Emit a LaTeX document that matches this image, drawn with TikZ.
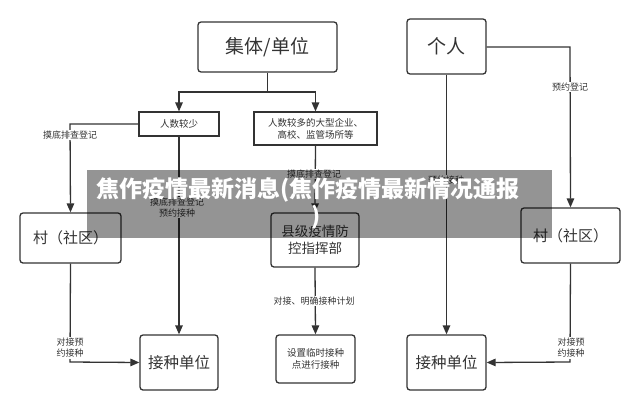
\documentclass[tikz,border=0pt]{standalone}
\usepackage{fontspec}
\setmainfont{Noto Sans CJK SC}
\usetikzlibrary{arrows.meta}
\definecolor{ink}{HTML}{333333}
\tikzset{
  rbox/.style={draw=ink, line width=1.3pt, rounded corners=3pt, text=ink, align=center, inner sep=0pt},
  sbox/.style={draw=ink, line width=1.2pt, text=ink, align=center, inner sep=0pt, font=\fontsize{9.5}{12}\selectfont},
  conn/.style={draw=ink, line width=1.3pt, -{Triangle[length=9pt,width=7.5pt]}},
  plain/.style={draw=ink, line width=1.3pt},
  lbl/.style={text=ink, fill=white, inner sep=1pt, align=center, font=\fontsize{9}{11}\selectfont}
}
\begin{document}
\begin{tikzpicture}[x=1pt,y=-1pt]
\useasboundingbox (0,0) rectangle (640,410);
\fill[white] (0,0) rectangle (640,410);
% main boxes
\node[rbox, minimum width=139pt, minimum height=50pt, font=\fontsize{19}{22}\selectfont] (unit) at (267.5,47) {集体/单位};
\node[rbox, minimum width=79pt, minimum height=55pt, font=\fontsize{19}{22}\selectfont] (person) at (446.5,46.5) {个人};
\node[sbox, minimum width=80pt, minimum height=24pt] (few) at (179,124) {人数较少};
\node[sbox, minimum width=123pt, minimum height=33pt] (many) at (315.5,128.5) {人数较多的大型企业、\\高校、监管场所等};
\node[rbox, minimum width=101pt, minimum height=50pt, font=\fontsize{15}{18}\selectfont] (villL) at (70.5,238) {村（社区）};
\node[rbox, minimum width=99pt, minimum height=55pt, font=\fontsize{15}{18}\selectfont] (villR) at (570.5,235.5) {村（社区）};
\node[rbox, minimum width=88pt, minimum height=54pt, font=\fontsize{13.5}{17}\selectfont] (county) at (315,240) {县级疫情防\\控指挥部};
\node[rbox, minimum width=78pt, minimum height=55pt, font=\fontsize{15.5}{18}\selectfont] (vacL) at (179,362.5) {接种单位};
\node[rbox, minimum width=79pt, minimum height=48pt, font=\fontsize{9.5}{12}\selectfont] (temp) at (315.5,359) {设置临时接种\\点进行接种};
\node[rbox, minimum width=79pt, minimum height=55pt, font=\fontsize{15.5}{18}\selectfont] (vacR) at (446.5,362.5) {接种单位};
% helper coordinates
\coordinate (split) at (267.5,92);
\coordinate (cL) at (70,124);
\coordinate (cR) at (570,47);
\coordinate (dL) at (70,362);
\coordinate (dR) at (570,362);
% connectors
\draw[plain] (unit.south) -- (split);
\draw[conn] (split) -| (few.north);
\draw[conn] (split) -| (many.north);
\draw[conn] (few.west) -- (cL) -- (villL.north);
\draw[conn] (villL.south) -- (dL) -- (vacL.west);
\draw[conn] (few.south) -- (vacL.north);
\draw[conn] (many.south) -- (county.north);
\draw[conn] (county.south) -- (temp.north);
\draw[conn] (person.south) -- (vacR.north);
\draw[conn] (person.east |- cR) -- (cR) -- (villR.north);
\draw[conn] (villR.south) -- (dR) -- (vacR.east);
% labels
\node[lbl] (l1) at (70,135) {摸底排查登记};
\node[lbl] (l2) at (70,348) {对接预\\约接种};
\node[lbl] (l3) at (177,207.5) {摸底排查登记\\预约接种};
\node[lbl] (l4) at (314,174) {摸底排查登记};
\node[lbl] (l5) at (314,301) {对接、明确接种计划};
\node[lbl] (l6) at (446,180) {预约接种};
\node[lbl] (l7) at (570,87) {预约登记};
\node[lbl] (l8) at (571,348) {对接预\\约接种};
% title banner
\fill[black, opacity=0.42] (87,170) rectangle (552,238);
\node[text=white, font=\fontsize{23}{26}\selectfont\bfseries, anchor=west, inner sep=0pt] (title) at (96,190) {焦作疫情最新消息(焦作疫情最新情况通报};
\node[text=white, font=\fontsize{23}{26}\selectfont\bfseries, inner sep=0pt] (title2) at (316,217) {)};
\end{tikzpicture}
\end{document}
